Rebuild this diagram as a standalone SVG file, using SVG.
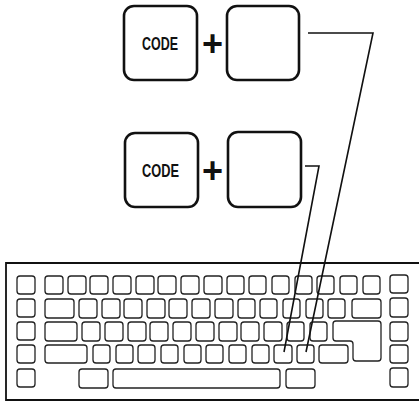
<svg xmlns="http://www.w3.org/2000/svg" width="419" height="403" viewBox="0 0 419 403">
<style>
.big{fill:#fff;stroke:#111;stroke-width:2.6}
.k{fill:none;stroke:#222;stroke-width:1.3}
.lbl{font-family:"Liberation Sans",Arial,sans-serif;font-weight:bold;font-size:18px;fill:#111}
.plus{font-family:"Liberation Sans",Arial,sans-serif;font-weight:bold;font-size:36px;fill:#111}
.conn{fill:none;stroke:#111;stroke-width:1.6}
</style>
<rect width="419" height="403" fill="#fff"/>
<g id="combo1">
  <g id="code-key-1"><rect class="big" x="124" y="6" width="73" height="74" rx="10"/><text class="lbl" x="142" y="50" textLength="36" lengthAdjust="spacingAndGlyphs">CODE</text></g>
  <text class="plus" x="202" y="56">+</text>
  <g id="key-1"><rect class="big" x="227" y="6" width="72" height="74" rx="10"/></g>
</g>
<g id="combo2">
  <g id="code-key-2"><rect class="big" x="125" y="133" width="73" height="74" rx="10"/><text class="lbl" x="142" y="177" textLength="37" lengthAdjust="spacingAndGlyphs">CODE</text></g>
  <text class="plus" x="202" y="183">+</text>
  <g id="key-2"><rect class="big" x="228" y="132" width="73" height="75" rx="10"/></g>
</g>
<g id="keyboard">
  <path d="M425,263 H6 V400 H425" fill="none" stroke="#111" stroke-width="1.8"/>
  <g id="left-col">
    <rect class="k" x="17" y="276" width="18" height="18" rx="3"/>
    <rect class="k" x="17" y="299" width="18" height="18" rx="3"/>
    <rect class="k" x="17" y="322" width="18" height="18" rx="3"/>
    <rect class="k" x="17" y="345" width="18" height="18" rx="3"/>
    <rect class="k" x="17" y="369" width="18" height="18" rx="3"/>
  </g>
  <g id="right-col">
    <rect class="k" x="390" y="275" width="18" height="18" rx="3"/>
    <rect class="k" x="390" y="298" width="18" height="19" rx="3"/>
    <rect class="k" x="390" y="322" width="18" height="19" rx="3"/>
    <rect class="k" x="390" y="345" width="18" height="18" rx="3"/>
    <rect class="k" x="390" y="368" width="18" height="19" rx="3"/>
  </g>
  <g id="row1">
    <rect class="k" x="45" y="276" width="18" height="18" rx="3"/>
    <rect class="k" x="68" y="276" width="18" height="18" rx="3"/>
    <rect class="k" x="90" y="276" width="18" height="18" rx="3"/>
    <rect class="k" x="113" y="276" width="18" height="18" rx="3"/>
    <rect class="k" x="136" y="276" width="18" height="18" rx="3"/>
    <rect class="k" x="158" y="276" width="18" height="18" rx="3"/>
    <rect class="k" x="181" y="276" width="18" height="18" rx="3"/>
    <rect class="k" x="204" y="276" width="18" height="18" rx="3"/>
    <rect class="k" x="227" y="276" width="17" height="18" rx="3"/>
    <rect class="k" x="249" y="276" width="17" height="18" rx="3"/>
    <rect class="k" x="272" y="276" width="17" height="18" rx="3"/>
    <rect class="k" x="295" y="276" width="17" height="18" rx="3"/>
    <rect class="k" x="317" y="276" width="17" height="18" rx="3"/>
    <rect class="k" x="340" y="276" width="17" height="18" rx="3"/>
    <rect class="k" x="363" y="276" width="17" height="18" rx="3"/>
  </g>
  <g id="row2">
    <rect class="k" x="45" y="299" width="29" height="19" rx="3"/>
    <rect class="k" x="79" y="299" width="18" height="19" rx="3"/>
    <rect class="k" x="102" y="299" width="18" height="19" rx="3"/>
    <rect class="k" x="124" y="299" width="18" height="19" rx="3"/>
    <rect class="k" x="147" y="299" width="18" height="19" rx="3"/>
    <rect class="k" x="169" y="299" width="18" height="19" rx="3"/>
    <rect class="k" x="192" y="299" width="18" height="19" rx="3"/>
    <rect class="k" x="215" y="299" width="18" height="19" rx="3"/>
    <rect class="k" x="238" y="299" width="17" height="19" rx="3"/>
    <rect class="k" x="260" y="299" width="17" height="19" rx="3"/>
    <rect class="k" x="283" y="299" width="17" height="19" rx="3"/>
    <rect class="k" x="306" y="299" width="17" height="19" rx="3"/>
    <rect class="k" x="328" y="299" width="17" height="19" rx="3"/>
    <rect class="k" x="352" y="299" width="29" height="19" rx="3"/>
  </g>
  <g id="row3">
    <rect class="k" x="45" y="322" width="32" height="19" rx="3"/>
    <rect class="k" x="82" y="322" width="18" height="19" rx="3"/>
    <rect class="k" x="105" y="322" width="18" height="19" rx="3"/>
    <rect class="k" x="128" y="322" width="18" height="19" rx="3"/>
    <rect class="k" x="150" y="322" width="18" height="19" rx="3"/>
    <rect class="k" x="173" y="322" width="18" height="19" rx="3"/>
    <rect class="k" x="196" y="322" width="18" height="19" rx="3"/>
    <rect class="k" x="219" y="322" width="18" height="19" rx="3"/>
    <rect class="k" x="241" y="322" width="18" height="19" rx="3"/>
    <rect class="k" x="264" y="322" width="18" height="19" rx="3"/>
    <rect class="k" x="287" y="322" width="17" height="19" rx="3"/>
    <rect class="k" x="310" y="322" width="17" height="19" rx="3"/>
    <path class="k" d="M336,321 H378 Q381,321 381,324 V358 Q381,361 378,361 H356 Q353,361 353,358 V344 Q353,341 350,341 H336 Q333,341 333,338 V324 Q333,321 336,321 Z"/>
  </g>
  <g id="row4">
    <rect class="k" x="45" y="345" width="42" height="18" rx="3"/>
    <rect class="k" x="93" y="345" width="17" height="18" rx="3"/>
    <rect class="k" x="116" y="345" width="17" height="18" rx="3"/>
    <rect class="k" x="138" y="345" width="17" height="18" rx="3"/>
    <rect class="k" x="161" y="345" width="17" height="18" rx="3"/>
    <rect class="k" x="184" y="345" width="17" height="18" rx="3"/>
    <rect class="k" x="206" y="345" width="17" height="18" rx="3"/>
    <rect class="k" x="229" y="345" width="17" height="18" rx="3"/>
    <rect class="k" x="252" y="345" width="17" height="18" rx="3"/>
    <rect class="k" x="274" y="345" width="18" height="18" rx="3"/>
    <rect class="k" x="297" y="345" width="17" height="18" rx="3"/>
    <rect class="k" x="319" y="345" width="29" height="18" rx="3"/>
  </g>
  <g id="row5">
    <rect class="k" x="79" y="369" width="29" height="19" rx="3"/>
    <rect class="k" x="113" y="369" width="167" height="19" rx="3"/>
    <rect class="k" x="286" y="369" width="29" height="19" rx="3"/>
  </g>
</g>
<g id="connectors">
  <polyline class="conn" points="308,33 373,33 306,352"/>
  <polyline class="conn" points="305,166 319,166 284,352"/>
</g>
</svg>
